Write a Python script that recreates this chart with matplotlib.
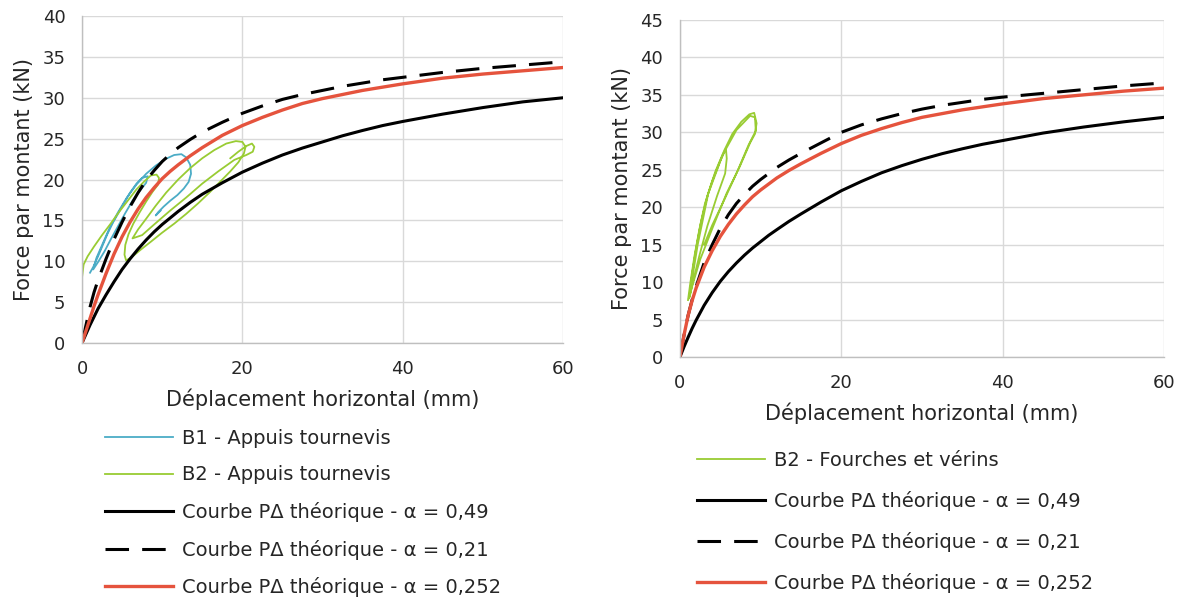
import numpy as np
import matplotlib.pyplot as plt

# theoretical P-Delta curves
d_th = [0, 0.5, 1, 1.5, 2, 3, 4, 5, 6, 7, 8, 9, 10, 11, 12, 13.5, 15, 17.5, 20, 22.5,
        25, 27.5, 30, 32.5, 35, 37.5, 40, 45, 50, 55, 60]

# left chart
left_a049 = [0, 1.1, 2.2, 3.2, 4.2, 5.9, 7.5, 9.0, 10.3, 11.5, 12.6, 13.6, 14.5, 15.3, 16.1, 17.2, 18.2, 19.6, 20.9, 22.0,
             23.0, 23.85, 24.6, 25.35, 26.0, 26.6, 27.1, 28.0, 28.8, 29.5, 30.0]
left_a021 = [0, 2.2, 4.4, 6.2, 7.7, 10.3, 12.7, 14.8, 16.7, 18.4, 19.9, 21.1, 22.2, 23.1, 23.9, 24.9, 25.8, 27.0, 28.1, 29.0,
             29.8, 30.4, 30.9, 31.4, 31.8, 32.2, 32.5, 33.1, 33.6, 34.0, 34.4]
left_a0252 = [0, 1.5, 3.0, 4.5, 5.9, 8.5, 10.9, 13.0, 14.8, 16.4, 17.8, 19.0, 20.1, 21.0, 21.8, 22.9, 23.9, 25.4, 26.6, 27.6,
              28.5, 29.3, 29.9, 30.4, 30.9, 31.3, 31.7, 32.4, 32.9, 33.3, 33.7]

# right chart
right_a049 = [0, 1.35, 2.6, 3.8, 4.9, 6.9, 8.6, 10.1, 11.4, 12.55, 13.6, 14.55, 15.4, 16.25, 17.0, 18.1, 19.1, 20.7, 22.2, 23.45,
              24.6, 25.55, 26.4, 27.15, 27.8, 28.4, 28.9, 29.9, 30.7, 31.4, 32.0]
right_a021 = [0, 2.9, 5.5, 7.6, 9.4, 12.6, 15.0, 17.2, 19.0, 20.5, 21.7, 22.8, 23.7, 24.5, 25.3, 26.3, 27.2, 28.6, 30.0, 31.0,
              31.8, 32.5, 33.1, 33.6, 34.0, 34.4, 34.7, 35.2, 35.7, 36.2, 36.6]
right_a0252 = [0, 2.9, 5.5, 7.5, 9.2, 12.0, 14.2, 16.1, 17.7, 19.1, 20.3, 21.4, 22.3, 23.1, 23.9, 24.9, 25.8, 27.2, 28.5, 29.6,
               30.5, 31.3, 32.0, 32.5, 33.0, 33.4, 33.8, 34.5, 35.0, 35.5, 35.9]

# B1 - Appuis tournevis (test loops)
b1_d = [1.0, 1.4, 2.0, 2.6, 3.2, 3.9, 4.6, 5.3, 6.0, 6.8, 7.5, 8.2, 8.0, 7.2, 6.3, 5.4, 4.5, 3.6, 2.8, 2.0, 1.4,
        1.8, 2.6, 3.5, 4.5, 5.6, 6.8, 8.0, 9.2, 10.4, 11.5, 12.4, 13.0, 13.5, 13.6, 13.3, 12.7, 11.9, 11.0, 10.2,
        9.5, 9.2, 9.8]
b1_f = [8.6, 9.3, 10.6, 12.0, 13.4, 14.8, 16.0, 17.2, 18.4, 19.5, 20.2, 20.4, 19.6, 18.6, 17.4, 15.9, 14.3, 12.7, 11.2, 9.9, 9.0,
        10.4, 12.2, 14.2, 16.0, 17.8, 19.4, 20.7, 21.7, 22.5, 23.0, 23.1, 22.7, 21.8, 20.7, 19.7, 18.9, 18.1, 17.4, 16.7,
        16.0, 15.6, 16.2]

# B2 - Appuis tournevis
b2l_d = [0.0, 0.2, 0.7, 1.5, 2.5, 3.5, 4.6, 5.7, 6.8, 7.8, 8.6, 9.3, 9.6, 9.5,
         8.8, 8.0, 7.2, 6.4, 5.8, 5.4, 5.3, 5.5,
         6.2, 7.3, 8.6, 10.0, 11.5, 13.0, 14.5, 16.0, 17.3, 18.5, 19.5, 20.2, 20.4, 20.0, 19.2, 18.0,
         16.5, 15.0, 13.5, 12.0, 10.5, 9.2, 8.0, 7.0, 6.3,
         7.5, 9.0, 11.0, 13.0, 15.0, 17.0, 19.0, 20.5, 21.3, 21.5, 21.2, 20.5, 19.5, 18.5]
b2l_f = [8.0, 9.6, 10.6, 11.8, 13.2, 14.5, 16.0, 17.4, 18.8, 19.8, 20.5, 20.6, 20.2, 19.4,
         18.5, 17.3, 16.0, 14.6, 13.3, 12.0, 10.8, 10.1,
         10.5, 11.4, 12.4, 13.5, 14.6, 15.8, 17.1, 18.5, 19.8, 21.0, 22.1, 23.2, 24.0, 24.6, 24.7, 24.4,
         23.6, 22.6, 21.4, 20.0, 18.4, 16.8, 15.2, 13.9, 12.8,
         13.2, 14.5, 16.2, 17.8, 19.5, 21.0, 22.4, 23.0, 23.4, 24.0, 24.4, 24.1, 23.4, 22.6]

# B2 - Fourches et vérins
b2r_d = [1.0, 1.3, 1.8, 2.4, 3.1, 4.0, 5.0, 5.7, 5.8, 5.6, 4.6, 3.4, 2.4, 1.6, 1.2,
         1.5, 2.0, 2.6, 3.4, 4.4, 5.5, 6.5, 7.6, 8.6, 9.2, 9.5, 9.3, 8.7, 7.4, 5.8, 4.1, 2.5, 1.5, 1.1,
         1.3, 2.2, 3.5, 5.3, 7.0, 8.7, 9.3, 9.4, 8.5, 7.0, 5.5, 4.0, 3.0]
b2r_f = [7.6, 10.0, 13.5, 17.0, 20.5, 23.5, 26.2, 27.8, 26.5, 24.5, 21.5, 17.5, 13.5, 10.0, 8.0,
         11.0, 14.5, 18.0, 21.5, 24.8, 27.6, 29.8, 31.4, 32.4, 32.6, 31.2, 29.8, 28.6, 25.4, 21.9, 17.4, 13.0, 9.4, 7.8,
         9.0, 15.0, 21.8, 27.0, 30.3, 32.2, 32.0, 30.2, 28.3, 24.5, 21.0, 17.6, 15.0]

c_teal = '#4BACC6'
c_green = '#99CC33'
c_red = '#E5533D'
c_grid = '#D9D9D9'
c_text = '#262626'

plt.rcParams['font.family'] = 'DejaVu Sans'

fig = plt.figure(figsize=(11.85, 6), dpi=100)
ax1 = fig.add_axes([0.0692, 0.4283, 0.4059, 0.545])
ax2 = fig.add_axes([0.5738, 0.405, 0.4085, 0.5617])


def style(ax, ymax):
    ax.set_xlim(0, 60)
    ax.set_ylim(0, ymax)
    ax.set_xticks([0, 20, 40, 60])
    ax.set_yticks(np.arange(0, ymax + 1, 5))
    ax.grid(True, color=c_grid, linewidth=1.0)
    ax.set_axisbelow(True)
    for s in ['top', 'right']:
        ax.spines[s].set_visible(False)
    for s in ['left', 'bottom']:
        ax.spines[s].set_color('#BFBFBF')
        ax.spines[s].set_linewidth(1.0)
    ax.tick_params(length=0, labelsize=13, colors=c_text, pad=12)
    ax.set_xlabel("Déplacement horizontal (mm)", fontsize=15, color=c_text, labelpad=8)
    ax.set_ylabel("Force par montant (kN)", fontsize=15, color=c_text, labelpad=6)


dash = (7.7, 4.3)

# left chart
ax1.plot(b1_d, b1_f, color=c_teal, lw=1.3, label="B1 - Appuis tournevis")
ax1.plot(b2l_d, b2l_f, color=c_green, lw=1.3, label="B2 - Appuis tournevis")
ax1.plot(d_th, left_a049, color='black', lw=2.2, label="Courbe PΔ théorique - α = 0,49")
ax1.plot(d_th, left_a021, color='black', lw=2.2, dashes=dash, label="Courbe PΔ théorique - α = 0,21")
ax1.plot(d_th, left_a0252, color=c_red, lw=2.4, label="Courbe PΔ théorique - α = 0,252")
style(ax1, 40)
ax1.legend(loc='upper left', bbox_to_anchor=(0.0886, 0.285), bbox_transform=fig.transFigure,
           frameon=False, fontsize=14, handlelength=3.5, handletextpad=0.45,
           labelspacing=0.90, borderpad=0, borderaxespad=0, labelcolor=c_text)

# right chart
ax2.plot(b2r_d, b2r_f, color=c_green, lw=1.3, label="B2 - Fourches et vérins")
ax2.plot(d_th, right_a049, color='black', lw=2.2, label="Courbe PΔ théorique - α = 0,49")
ax2.plot(d_th, right_a021, color='black', lw=2.2, dashes=dash, label="Courbe PΔ théorique - α = 0,21")
ax2.plot(d_th, right_a0252, color=c_red, lw=2.4, label="Courbe PΔ théorique - α = 0,252")
style(ax2, 45)
ax2.legend(loc='upper left', bbox_to_anchor=(0.588, 0.248), bbox_transform=fig.transFigure,
           frameon=False, fontsize=14, handlelength=3.5, handletextpad=0.45,
           labelspacing=1.08, borderpad=0, borderaxespad=0, labelcolor=c_text)

fig.savefig('out.png', dpi=100)
